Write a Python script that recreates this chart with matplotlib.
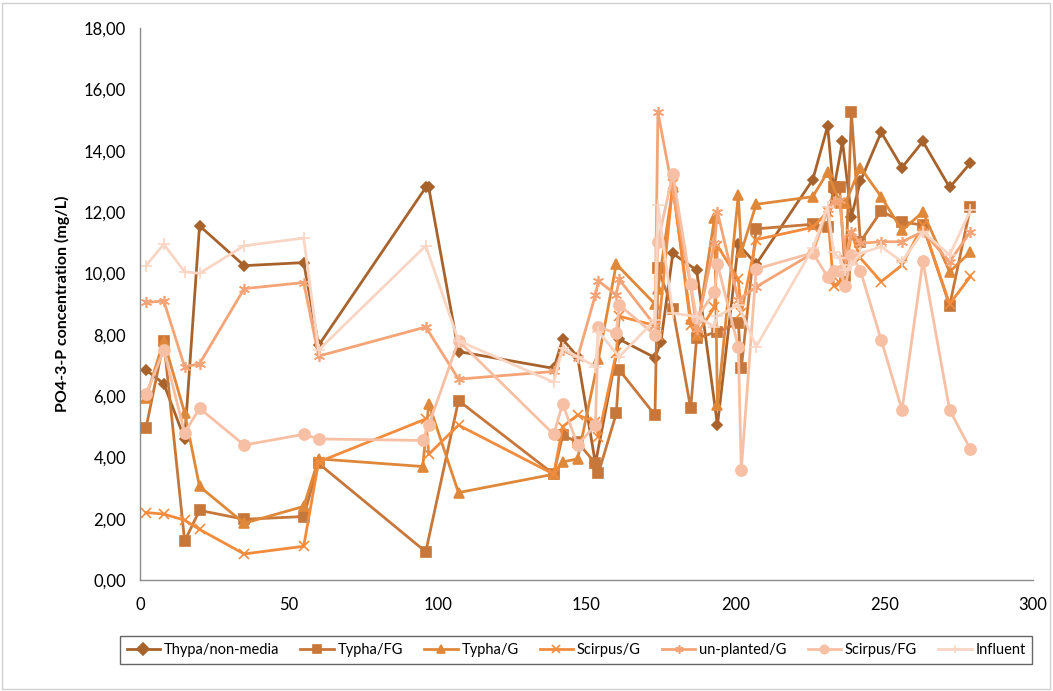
import matplotlib
matplotlib.use("Agg")
import matplotlib.pyplot as plt
from matplotlib.patches import Rectangle

plt.rcParams['font.family'] = ['Lato', 'DejaVu Sans']

series_names = ["Thypa/non-media", "Typha/FG", "Typha/G", "Scirpus/G",
                "un-planted/G", "Scirpus/FG", "Influent"]

thypa_x = [2, 8, 15, 20, 35, 55, 60, 96, 97, 107, 139, 142, 147, 153, 161, 173, 175, 179, 187, 194,
           201, 207, 226, 231, 233, 236, 239, 242, 249, 256, 263, 272, 279]
thypa_y = [6.85, 6.4, 4.6, 11.55, 10.25, 10.35, 7.65, 12.8, 12.8, 7.45, 6.9, 7.85, 7.28, 3.8, 7.85,
           7.25, 7.77, 10.65, 10.1, 5.05, 10.95, 10.3, 13.05, 14.8, 12.7, 14.3, 11.85, 13.0, 14.6,
           13.45, 14.3, 12.8, 13.6]

typha_fg_x = [2, 8, 15, 20, 35, 55, 60, 96, 107, 139, 142, 147, 153, 154, 160, 161, 173, 174, 179,
              185, 187, 194, 201, 202, 207, 226, 231, 233, 235, 237, 239, 242, 249, 256, 263, 272, 279]
typha_fg_y = [4.95, 7.78, 1.27, 2.27, 1.98, 2.07, 3.8, 0.92, 5.85, 3.45, 4.72, 4.5, 3.8, 3.48, 5.43,
              6.85, 5.38, 10.16, 8.84, 5.6, 7.88, 8.1, 8.37, 6.9, 11.45, 11.6, 11.5, 12.8, 12.8, 9.9,
              15.25, 11.03, 12.03, 11.68, 11.57, 8.95, 12.17]

typha_g_x = [2, 8, 15, 20, 35, 55, 60, 95, 97, 107, 139, 142, 147, 154, 160, 173, 174, 179, 185, 187,
             193, 194, 201, 202, 207, 226, 231, 235, 237, 242, 249, 256, 263, 272, 279]
typha_g_y = [5.95, 7.8, 5.45, 3.05, 1.85, 2.4, 3.95, 3.7, 5.75, 2.85, 3.45, 3.85, 3.95, 7.2, 10.3,
             9.0, 9.5, 12.8, 8.5, 8.0, 11.8, 5.7, 12.55, 10.7, 12.25, 12.5, 13.3, 12.3, 12.3, 13.45,
             12.5, 11.4, 12.0, 10.05, 10.7]

scirpus_g_x = [2, 8, 15, 20, 35, 55, 60, 96, 97, 107, 139, 142, 147, 153, 154, 160, 161, 173, 174,
               179, 185, 187, 193, 194, 201, 202, 207, 226, 231, 233, 235, 237, 239, 242, 249, 256,
               263, 272, 279]
scirpus_g_y = [2.2, 2.15, 1.95, 1.65, 0.85, 1.1, 3.85, 5.25, 4.1, 5.05, 3.45, 5.0, 5.38, 5.16, 4.67,
               7.4, 8.6, 8.3, 8.0, 12.9, 8.3, 8.0, 8.9, 10.9, 9.8, 8.7, 11.1, 11.5, 12.0, 9.6, 9.7,
               10.1, 11.3, 10.5, 9.73, 10.27, 11.57, 9.0, 9.9]

unplanted_x = [2, 8, 15, 20, 35, 55, 60, 96, 107, 139, 142, 147, 153, 154, 160, 161, 173, 174, 185,
               187, 193, 194, 201, 207, 226, 231, 233, 235, 237, 239, 242, 249, 256, 263, 272, 279]
unplanted_y = [9.05, 9.1, 6.95, 7.05, 9.5, 9.7, 7.3, 8.25, 6.55, 6.8, 7.5, 7.25, 9.3, 9.75, 9.3,
               9.8, 8.3, 15.25, 9.6, 8.2, 11.0, 12.0, 9.13, 9.56, 10.65, 12.1, 12.33, 12.39, 10.5,
               11.36, 10.98, 11.03, 11.03, 11.36, 10.38, 11.36]

scirpus_fg_x = [2, 8, 15, 20, 35, 55, 60, 95, 97, 107, 139, 142, 147, 153, 154, 160, 161, 173, 174,
                179, 185, 187, 193, 194, 201, 202, 207, 226, 231, 233, 235, 237, 239, 242, 249, 256,
                263, 272, 279]
scirpus_fg_y = [6.05, 7.5, 4.8, 5.6, 4.4, 4.75, 4.6, 4.55, 5.05, 7.8, 4.75, 5.75, 4.4, 5.05, 8.26,
                8.04, 8.97, 7.99, 11.03, 13.24, 9.65, 8.53, 9.4, 10.3, 7.61, 3.59, 10.14, 10.67,
                9.89, 10.09, 10.09, 9.6, 10.6, 10.09, 7.83, 5.54, 10.4, 5.54, 4.26]

influent_x = [2, 8, 15, 20, 35, 55, 60, 96, 107, 139, 142, 147, 153, 154, 161, 173, 174, 179, 187,
              193, 194, 201, 207, 226, 231, 233, 235, 237, 239, 242, 249, 256, 263, 272, 279]
influent_y = [10.25, 10.95, 10.05, 10.0, 10.9, 11.15, 7.5, 10.9, 7.8, 6.45, 7.55, 7.28, 6.96, 8.1,
              7.28, 8.48, 12.23, 8.7, 8.59, 8.26, 8.6, 8.97, 7.61, 10.81, 12.17, 10.7, 10.49, 10.1,
              10.27, 10.65, 10.87, 10.38, 11.36, 10.6, 12.06]

y_ticks = [0, 2, 4, 6, 8, 10, 12, 14, 16, 18]
x_ticks = [0, 50, 100, 150, 200, 250, 300]

data = [(thypa_x, thypa_y), (typha_fg_x, typha_fg_y), (typha_g_x, typha_g_y),
        (scirpus_g_x, scirpus_g_y), (unplanted_x, unplanted_y),
        (scirpus_fg_x, scirpus_fg_y), (influent_x, influent_y)]
colors = ["#A8622C", "#C8773A", "#E0883A", "#F28C3C", "#F4A476", "#F7C0A4", "#F9D6C4"]
markers = ["D", "s", "^", "x", (6, 2, 0), "o", "+"]
msizes = [5.5, 7, 7, 7, 8, 8, 9]

fig = plt.figure(figsize=(10.53, 6.91), dpi=100)
ax = fig.add_axes([140/1053, 1-580/691, 893/1053, 552/691])

for (xs, ys), name, c, m, ms in zip(data, series_names, colors, markers, msizes):
    ax.plot(xs, ys, color=c, linewidth=2.0, marker=m, markersize=ms,
            markerfacecolor=c, markeredgecolor=c, markeredgewidth=1.2, label=name)

ax.set_xlim(0, 300)
ax.set_ylim(0, 18)
ax.set_xticks(x_ticks)
ax.set_yticks(y_ticks)
ax.set_xticklabels([str(v) for v in x_ticks])
ax.set_yticklabels([f"{v:.2f}".replace(".", ",") for v in y_ticks])
ax.tick_params(axis='both', length=0, labelsize=12, pad=10, colors="#000000")
ax.tick_params(axis='x', pad=12)
for s in ["top", "right"]:
    ax.spines[s].set_visible(False)
for s in ["left", "bottom"]:
    ax.spines[s].set_color("#8C8C8C")
    ax.spines[s].set_linewidth(1.0)
ax.set_ylabel("PO4-3-P concentration (mg/L)", fontsize=11.5, fontweight="bold", labelpad=10)

handles, labels = ax.get_legend_handles_labels()
leg = fig.legend(handles, labels, loc="center", bbox_to_anchor=(576/1053, 1-650/691), ncol=7,
                 fontsize=10.5, frameon=True, fancybox=False, edgecolor="#404040",
                 handlelength=2.3, columnspacing=1.45, handletextpad=0.25, borderpad=0.45,
                 borderaxespad=0)
leg.get_frame().set_linewidth(1.0)
for h in leg.legend_handles:
    h.set_markersize(6)

fig.patches.append(Rectangle((2/1053, 2/691), 1048/1053, 686/691, transform=fig.transFigure,
                             fill=False, edgecolor="#D0D0D0", linewidth=1.0))

fig.savefig("out.png", dpi=100)
